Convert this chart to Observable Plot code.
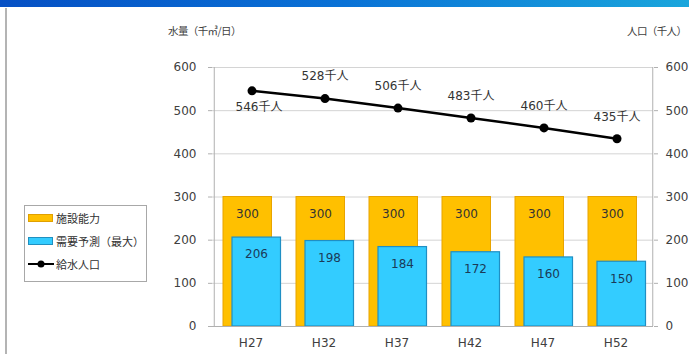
<!DOCTYPE html>
<html>
<head>
<meta charset="utf-8">
<script src="https://cdn.jsdelivr.net/npm/d3@7"></script>
<script src="https://cdn.jsdelivr.net/npm/@observablehq/plot@0.6"></script>
<style>
  html, body { margin: 0; padding: 0; background: #fff; }
  #wrap { position: relative; width: 689px; height: 354px; overflow: hidden; font-family: "DejaVu Sans", "Noto Sans CJK JP", sans-serif; }
  #band { position: absolute; left: 0; top: 0; width: 689px; height: 7px; background: linear-gradient(to right, #0650c4, #0a72d6 50%, #1aa6dc); }
  #edge { position: absolute; left: 5px; top: 8px; width: 2px; height: 346px; background: #b4b4b4; }
  #chart { position: absolute; left: 0; top: 0; }
  .ttl { position: absolute; top: 23px; font-size: 10.5px; letter-spacing: -0.6px; color: #404040; font-family: "Noto Sans CJK JP", sans-serif; white-space: nowrap; }
  #legend { position: absolute; left: 24px; top: 205px; width: 123px; height: 77px; border: 1px solid #a8a8a8; box-sizing: border-box; background: #fff;
            font-family: "Noto Sans CJK JP", sans-serif; font-size: 11px; color: #303030; }
  .item { position: absolute; left: 3px; display: flex; align-items: center; white-space: nowrap; }
  .sw { width: 25px; height: 8px; margin-right: 3px; box-sizing: border-box; }
</style>
</head>
<body>
<div id="wrap">
  <div id="band"></div>
  <div id="edge"></div>
  <div id="chart"></div>
  <div class="ttl" style="left:168px">水量（千㎥/日）</div>
  <div class="ttl" style="left:627px">人口（千人）</div>
  <div id="legend">
    <div class="item" style="top:4px"><div class="sw" style="background:#ffc000;border:1px solid #e0a000"></div>施設能力</div>
    <div class="item" style="top:27px"><div class="sw" style="background:#33ccff;border:1px solid #2090c0"></div>需要予測（最大）</div>
    <div class="item" style="top:50px">
      <svg width="28" height="10"><line x1="0" y1="5" x2="26" y2="5" stroke="#000" stroke-width="2"/><circle cx="13" cy="5" r="3.5" fill="#000"/></svg>給水人口</div>
  </div>
</div>
<script>
// Fiscal years (Heisei)
const periods = ["H27", "H32", "H37", "H42", "H47", "H52"];
// Facility capacity, thousand m3/day
const capacity = [300, 300, 300, 300, 300, 300];
// Forecast maximum demand, thousand m3/day
const demand = [206, 198, 184, 172, 160, 150];
// Served population, thousand people
const population = [546, 528, 506, 483, 460, 435];
const yTicks = [0, 100, 200, 300, 400, 500, 600];

const rows = periods.map((p, i) => ({p, cap: capacity[i], dem: demand[i], pop: population[i], i}));
const half = (689 - 212 - 36) / periods.length / 2;

const chart = Plot.plot({
  width: 689,
  height: 354,
  marginLeft: 212,
  marginRight: 36,
  marginTop: 67,
  marginBottom: 28,
  style: {fontFamily: "DejaVu Sans, sans-serif", fontSize: "12px", color: "#404040", background: "transparent"},
  x: {type: "band", domain: periods, padding: 0},
  y: {domain: [0, 600]},
  marks: [
    Plot.ruleY(yTicks.slice(1), {stroke: "#d4d4d4", strokeWidth: 1}),
    Plot.axisY(yTicks, {anchor: "left", tickSize: 4, tickPadding: 12, stroke: "#b0b0b0", label: null, fill: "#404040"}),
    Plot.axisY(yTicks, {anchor: "right", tickSize: 4, tickPadding: 8, stroke: "#b0b0b0", label: null, fill: "#404040"}),
    Plot.axisX({tickSize: 0, tickPadding: 12, label: null, fill: "#404040"}),
    Plot.barY(rows, {x: "p", y: "cap", fill: "#ffc000", stroke: "#e8a400", strokeWidth: 1, insetLeft: 9, insetRight: 15.5}),
    Plot.barY(rows, {x: "p", y: "dem", fill: "#33ccff", stroke: "#1f8fc4", strokeWidth: 1.2, insetLeft: 18, insetRight: 6.5}),
    Plot.ruleY([0], {stroke: "#b0b0b0"}),
    // vertical axis lines at both edges of the frame
    Plot.ruleX([periods[0]], {x: d => d, dx: -half, stroke: "#b0b0b0"}),
    Plot.ruleX([periods[periods.length - 1]], {x: d => d, dx: half, stroke: "#b0b0b0"}),
    Plot.text(rows, {x: "p", y: "cap", text: d => String(d.cap), dx: -3.5, dy: 17, fill: "#333"}),
    Plot.text(rows, {x: "p", y: "dem", text: d => String(d.dem), dx: 5.5, dy: 17, fill: "#1b3a58"}),
    Plot.line(rows, {x: "p", y: "pop", stroke: "#000", strokeWidth: 2.5, dx: 1}),
    Plot.dot(rows, {x: "p", y: "pop", fill: "#000", r: 4.5, dx: 1}),
    Plot.text(rows.filter(d => d.i === 0), {x: "p", y: "pop", text: d => d.pop + "千人", dx: 8, dy: 16, fill: "#333", fontFamily: "DejaVu Sans, Noto Sans CJK JP"}),
    Plot.text(rows.filter(d => d.i > 0), {x: "p", y: "pop", text: d => d.pop + "千人", dx: 1, dy: -22, fill: "#333", fontFamily: "DejaVu Sans, Noto Sans CJK JP"})
  ]
});
document.getElementById("chart").appendChild(chart);
</script>
</body>
</html>
